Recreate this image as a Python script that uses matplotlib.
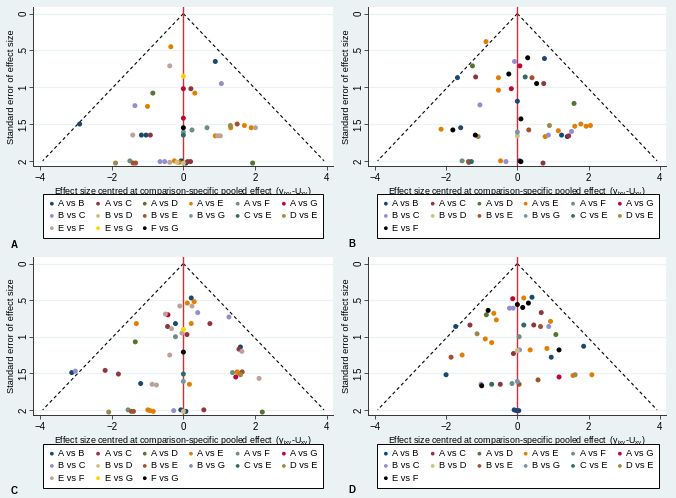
import numpy as np
import matplotlib.pyplot as plt
from matplotlib.patches import Rectangle

plt.rcParams['font.family'] = ['Liberation Sans', 'DejaVu Sans']
plt.rcParams['mathtext.default'] = 'regular'

# comparison codes and legend order
order_ac = "AB AC AD AE AF AG BC BD BE BG CE DE EF EG FG".split()
order_bd = "AB AC AD AE AF AG BC BD BE BG CE DE EF".split()

stata = ["#1a476f", "#90353b", "#55752f", "#e37e00", "#6e8e84", "#c10534",
         "#938dd2", "#cac27e", "#a0522d", "#7b92a8", "#2d6d66", "#9c8847",
         "#bfa19c", "#ffd200", "#000000"]
colors_ac = stata
colors_bd = stata[:12] + ["#000000"]

# panel A
a_cmp = ("AE EF AB EG BC AG AC AE AD BC AE AG AB FG AF AF BG CE DE AE BE AE AE EF "
         "AE EF EF EF AB AB AC DE AF BE BE BC BC EF AE BD AE AB BD AB AC AC AD").split()
a_eff = [-0.35, -0.38, 0.89, 0.00, 1.06, 0.00, 0.21, 0.32, -0.85, -1.35, -1.00, 0.00,
         -2.89, 0.00, 0.24, 0.66, 0.00, 0.00, 1.31, 1.32, 1.50, 1.70, 1.89, 2.01,
         0.89, 0.96, 1.03, -1.41, -1.17, -1.04, -0.92, -1.89, -1.49, -1.40, -1.33,
         -0.65, -0.52, -0.38, -0.25, -0.18, -0.12, -0.06, 0.00, 0.07, 0.12, 0.20, 1.93]
a_se = [0.45, 0.71, 0.65, 0.85, 0.95, 1.02, 1.02, 1.08, 1.08, 1.25, 1.26, 1.42,
        1.50, 1.55, 1.58, 1.55, 1.61, 1.65, 1.52, 1.55, 1.50, 1.52, 1.55, 1.55,
        1.66, 1.66, 1.66, 1.65, 1.65, 1.65, 1.65, 2.03, 2.00, 2.03, 2.03,
        2.01, 2.01, 2.02, 2.00, 2.02, 2.02, 2.00, 2.03, 2.03, 2.01, 2.01, 2.03]

# panel B
b_cmp = ("AE EF AB BC AG AD EF CE BE AB AC AE EF AC AG AE AB AD BC EF AE EF AB BE BG BD "
         "EF DE DE AE BC AE AB AB AC BC AE AE AE AE AF BE AC CE AE BC AB EF AC").split()
b_eff = [-0.88, 0.29, 0.76, -0.08, 0.07, -1.26, -0.24, 0.22, 0.41, -1.68, -1.17, -0.53,
         0.54, 0.74, -0.17, -0.53, 0.00, 1.59, -1.05, 0.10, -2.14, -1.81, -1.59, 0.32,
         0.00, 0.00, -1.18, -1.10, 0.90, 0.78, 0.87, 1.15, 1.24, 1.40, 1.44, 1.52,
         1.61, 1.78, 1.93, 2.05, -1.55, -1.37, -1.36, -1.29, -0.47, -0.32, 0.06, 0.10, 0.72]
b_se = [0.38, 0.60, 0.61, 0.65, 0.71, 0.71, 0.82, 0.86, 0.87, 0.87, 0.86, 0.87,
        0.95, 0.95, 1.02, 1.04, 1.19, 1.22, 1.24, 1.43, 1.57, 1.58, 1.55, 1.58,
        1.61, 1.66, 1.65, 1.67, 1.52, 1.67, 1.65, 1.59, 1.65, 1.67, 1.66, 1.60,
        1.53, 1.50, 1.53, 1.52, 2.00, 2.01, 2.02, 2.01, 2.00, 2.01, 2.00, 2.01, 2.03]

# panel C
c_cmp = ("AB AE AE EF EF BC EF AG BC AE AB AE AC AC EF EG EF AC AF AD AB AC EF FG EF "
         "AB BC AC AC CE AF AE AE DE BE AG EF BG AB EF EF AE "
         "DE AF BE BE AE AE AE BC AB BD AB AC AD").split()
c_eff = [0.22, 0.11, 0.30, -0.10, 0.24, 0.40, -0.50, -0.43, 1.27, -1.31, -0.22, 0.22,
         0.74, -0.44, -0.33, 0.00, -0.04, 0.10, -0.22, -1.34, 1.59, 1.55, 1.63, 0.00,
         -0.38, -3.11, -3.01, -2.18, -1.81, 0.00, 1.37, 1.50, 1.55, 1.59, 1.64, 1.46,
         2.11, 0.00, -1.19, -0.87, -0.75, 0.17,
         -2.08, -1.54, -1.45, -1.39, -0.99, -0.93, -0.84, -0.27, -0.07, 0.00, 0.07, 0.57, 2.20]
c_se = [0.47, 0.54, 0.52, 0.58, 0.58, 0.67, 0.69, 0.70, 0.73, 0.82, 0.82, 0.82,
        0.82, 0.86, 0.89, 0.90, 0.95, 0.97, 1.00, 1.07, 1.14, 1.17, 1.20, 1.21,
        1.25, 1.49, 1.47, 1.46, 1.51, 1.51, 1.49, 1.48, 1.50, 1.52, 1.48, 1.55,
        1.57, 1.61, 1.64, 1.65, 1.66, 1.65,
        2.03, 2.00, 2.02, 2.02, 2.00, 2.01, 2.02, 2.01, 2.00, 2.02, 2.02, 2.00, 2.03]

# panel D
d_cmp = ("AG AE AB EF EF EF BC BC EF AE AC AD AE AE AB AC CE AC BE BC DE AD AF AE AE "
         "AB AE EF AE BC BD AC BE AE AB AB AE DE AE AG BE BC EF CE AC AF BG BE "
         "AB AB AB").split()
d_eff = [-0.13, 0.18, 0.41, 0.00, 0.31, 0.15, -0.22, -0.12, -0.82, -0.66, 0.67, -0.87,
         -0.59, 0.93, -1.73, -1.33, 0.18, 0.46, 0.65, 0.88, -1.13, 1.08, 0.05, -0.90,
         -0.72, 1.86, 0.83, 1.17, 0.36, 0.06, 0.00, -0.11, -1.86, -1.55, 0.95, -2.00,
         1.56, 1.62, 2.09, 1.17, 0.58, -1.02, -1.00, -0.72, -0.48, -0.15, 0.00, 0.05,
         -0.09, -0.03, 0.04]
d_se = [0.48, 0.47, 0.46, 0.56, 0.54, 0.60, 0.61, 0.61, 0.64, 0.68, 0.67, 0.70,
        0.77, 0.79, 0.86, 0.84, 0.84, 0.84, 0.86, 0.86, 0.96, 0.97, 1.00, 1.03,
        1.08, 1.13, 1.16, 1.18, 1.18, 1.18, 1.19, 1.23, 1.28, 1.25, 1.28, 1.52,
        1.53, 1.52, 1.52, 1.55, 1.59, 1.65, 1.67, 1.65, 1.65, 1.64, 1.61, 1.65,
        2.00, 2.01, 2.01]

bg = "#eaf2f3"
W, H = 676, 498
fig = plt.figure(figsize=(W / 100, H / 100), dpi=100, facecolor=bg)


def px_box(left, top, right, bottom):
    return [left / W, 1 - bottom / H, (right - left) / W, (bottom - top) / H]


def funnel(rect, cmp, eff, se, order, colors, leg_left, leg_right, leg_top, letter, letter_xy):
    ax = fig.add_axes(rect)
    ax.set_facecolor("white")
    cmp = np.array(cmp)
    eff = np.array(eff)
    se = np.array(se)

    ax.set_xlim(-4.19, 4.17)
    ax.set_ylim(2.07, -0.09)
    ax.set_yticks([0, 0.5, 1, 1.5, 2])
    ax.set_yticklabels(["0", ".5", "1", "1.5", "2"], rotation=90, va="center")
    ax.set_xticks([-4, -2, 0, 2, 4])
    ax.yaxis.grid(True, color=bg, lw=0.9)
    ax.set_axisbelow(True)
    for side in ["top", "right"]:
        ax.spines[side].set_visible(False)
    for side in ["left", "bottom"]:
        ax.spines[side].set_color("#333333")
        ax.spines[side].set_linewidth(0.7)
    ax.tick_params(labelsize=7, length=3, width=0.6, color="#333333", pad=2)
    ax.tick_params(axis="y", pad=0.5)

    s = np.array([0, 2])
    ax.plot(-1.96 * s, s, color="black", lw=0.8, ls=(0, (3, 2.5)), zorder=2)
    ax.plot(1.96 * s, s, color="black", lw=0.8, ls=(0, (3, 2.5)), zorder=2)
    ax.axvline(0, color="#e0282e", lw=1.0, zorder=2)

    handles = []
    for code, col in zip(order, colors):
        m = cmp == code
        h = ax.scatter(eff[m], se[m], s=13, color=col, edgecolors="none", zorder=3,
                       label=code[0] + " vs " + code[1])
        handles.append(h)

    ax.set_xlabel(r"Effect size centred at comparison-specific pooled effect  (y$_{ixy}$-U$_{xy}$)",
                  fontsize=6.4, labelpad=2)
    ax.set_ylabel("Standard error of effect size", fontsize=6.7)
    ax.yaxis.set_label_coords(-0.058, 0.5)

    # legend box (white with black border)
    box = Rectangle((leg_left / W, 1 - (leg_top + 44) / H), (leg_right - leg_left) / W, 44 / H,
                    transform=fig.transFigure, facecolor="white", edgecolor="black",
                    lw=0.7, zorder=4)
    fig.patches.append(box)

    n = len(order)
    idx = [r * 6 + j for j in range(6) for r in range(3) if r * 6 + j < n]
    fig.legend([handles[i] for i in idx], [handles[i].get_label() for i in idx],
               loc="upper left",
               bbox_to_anchor=(leg_left / W, 1 - leg_top / H, (leg_right - leg_left) / W, 0),
               bbox_transform=fig.transFigure, mode="expand", ncol=6, fontsize=6.7,
               frameon=False, handlelength=0.8, handletextpad=0.3, borderpad=0.55,
               labelspacing=0.35, columnspacing=0.5, markerscale=0.75, borderaxespad=0)
    fig.text(letter_xy[0] / W, 1 - letter_xy[1] / H, letter, fontsize=7,
             fontweight="bold", va="center")
    return ax


funnel(px_box(33, 7, 333, 166), a_cmp, a_eff, a_se, order_ac, colors_ac, 43, 323, 194, "A", (11, 245))
funnel(px_box(368, 7, 666, 166), b_cmp, b_eff, b_se, order_bd, colors_bd, 377, 659, 194, "B", (348, 244))
funnel(px_box(33, 257, 333, 415), c_cmp, c_eff, c_se, order_ac, colors_ac, 43, 323, 444, "C", (11, 491))
funnel(px_box(368, 257, 666, 415), d_cmp, d_eff, d_se, order_bd, colors_bd, 377, 659, 444, "D", (348, 490))

fig.savefig("out.png", dpi=100, facecolor=bg)
